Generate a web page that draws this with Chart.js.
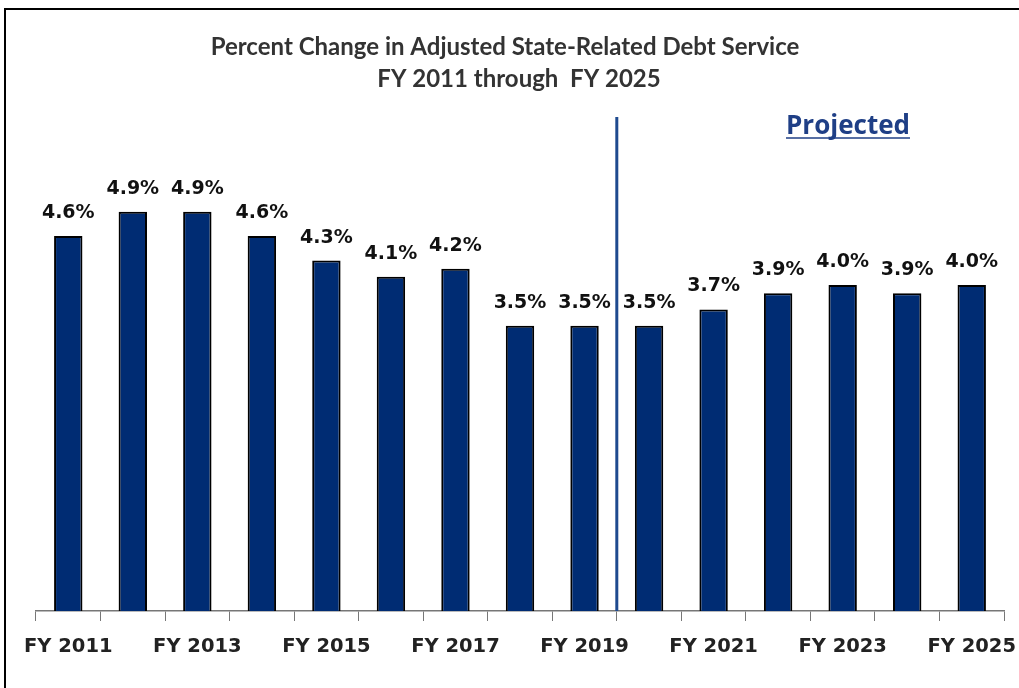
<!DOCTYPE html>
<html>
<head>
<meta charset="utf-8">
<script src="https://cdn.jsdelivr.net/npm/chart.js@4"></script>
<style>
  html, body { margin: 0; padding: 0; background: #fff; }
  #wrap { width: 1019px; height: 688px; position: relative; }
</style>
</head>
<body>
<div id="wrap"><canvas id="grafico"></canvas></div>
<script>
// Anos fiscais e variação percentual
const anos = ['FY 2011', 'FY 2012', 'FY 2013', 'FY 2014', 'FY 2015', 'FY 2016', 'FY 2017', 'FY 2018',
              'FY 2019', 'FY 2020', 'FY 2021', 'FY 2022', 'FY 2023', 'FY 2024', 'FY 2025'];
const variacao = [4.6, 4.9, 4.9, 4.6, 4.3, 4.1, 4.2, 3.5, 3.5, 3.5, 3.7, 3.9, 4.0, 3.9, 4.0];
const titulo = ['Percent Change in Adjusted State-Related Debt Service', 'FY 2011 through  FY 2025'];
const textoProjetado = 'Projected';
const primeiroProjetado = 9; // FY 2020

const fonteTitulo = 'Lato, "Noto Sans", sans-serif';
const fonte = '"DejaVu Sans", Verdana, sans-serif';

// Moldura, título, linha divisória, rótulos das barras e texto "Projected"
const extras = {
    id: 'extras',
    afterDatasetsDraw(chart) {
        const { ctx, chartArea, scales } = chart;
        const x = scales.x;
        ctx.save();

        // moldura (esquerda e topo)
        ctx.strokeStyle = '#000';
        ctx.lineWidth = 2;
        ctx.beginPath();
        ctx.moveTo(5, 688);
        ctx.lineTo(5, 9);
        ctx.lineTo(1019, 9);
        ctx.stroke();

        // título em duas linhas
        ctx.fillStyle = '#333';
        ctx.font = 'bold 24px ' + fonteTitulo;
        ctx.textAlign = 'center';
        ctx.textBaseline = 'alphabetic';
        ctx.fillText(titulo[0], 505, 55);
        ctx.fillText(titulo[1], 519, 87);

        // linha entre realizado e projetado
        const xDiv = (x.getPixelForValue(primeiroProjetado - 1) + x.getPixelForValue(primeiroProjetado)) / 2;
        ctx.strokeStyle = '#1f4a8f';
        ctx.lineWidth = 3;
        ctx.beginPath();
        ctx.moveTo(xDiv, 117);
        ctx.lineTo(xDiv, chartArea.bottom);
        ctx.stroke();

        // rótulos de valor
        ctx.fillStyle = '#111';
        ctx.font = 'bold 19px ' + fonte;
        const meta = chart.getDatasetMeta(0);
        meta.data.forEach((barra, i) => {
            ctx.fillText(variacao[i].toFixed(1) + '%', barra.x, barra.y - 18);
        });

        // texto "Projected" sublinhado
        ctx.fillStyle = '#1f3f86';
        ctx.font = 'bold 26px "Open Sans", ' + fonteTitulo;
        const cx = 848, base = 134;
        ctx.fillText(textoProjetado, cx, base);
        const w = ctx.measureText(textoProjetado).width;
        ctx.strokeStyle = '#1f3f86';
        ctx.lineWidth = 1.5;
        ctx.beginPath();
        ctx.moveTo(cx - w / 2, base + 4);
        ctx.lineTo(cx + w / 2, base + 4);
        ctx.stroke();

        ctx.restore();
    }
};

new Chart(document.getElementById('grafico'), {
    type: 'bar',
    data: {
        labels: anos,
        datasets: [{
            data: variacao,
            backgroundColor: '#002c73',
            borderColor: '#000',
            borderWidth: 2,
            barPercentage: 0.44,
            categoryPercentage: 1
        }]
    },
    options: {
        responsive: true,
        maintainAspectRatio: false,
        animation: false,
        layout: { padding: { left: 36, right: 15, top: 122, bottom: 20 } },
        plugins: {
            legend: { display: false },
            tooltip: { enabled: false },
            title: { display: false }
        },
        scales: {
            x: {
                offset: true,
                grid: {
                    offset: true,
                    drawOnChartArea: false,
                    drawTicks: true,
                    tickLength: 10,
                    color: '#777'
                },
                border: { color: '#777', width: 1.5 },
                ticks: {
                    autoSkip: false,
                    maxRotation: 0,
                    padding: 14,
                    color: '#222',
                    font: { family: fonte, size: 19.5, weight: 'bold' },
                    callback: (v, i) => (i % 2 === 0 ? anos[i] : '')
                },
                // altura fixa e sem recuo lateral extra
                afterFit: (escala) => {
                    escala.height = 57;
                    escala.paddingLeft = 0;
                    escala.paddingRight = 0;
                }
            },
            y: {
                display: false,
                min: 0,
                max: 6
            }
        }
    },
    plugins: [extras]
});
</script>
</body>
</html>
